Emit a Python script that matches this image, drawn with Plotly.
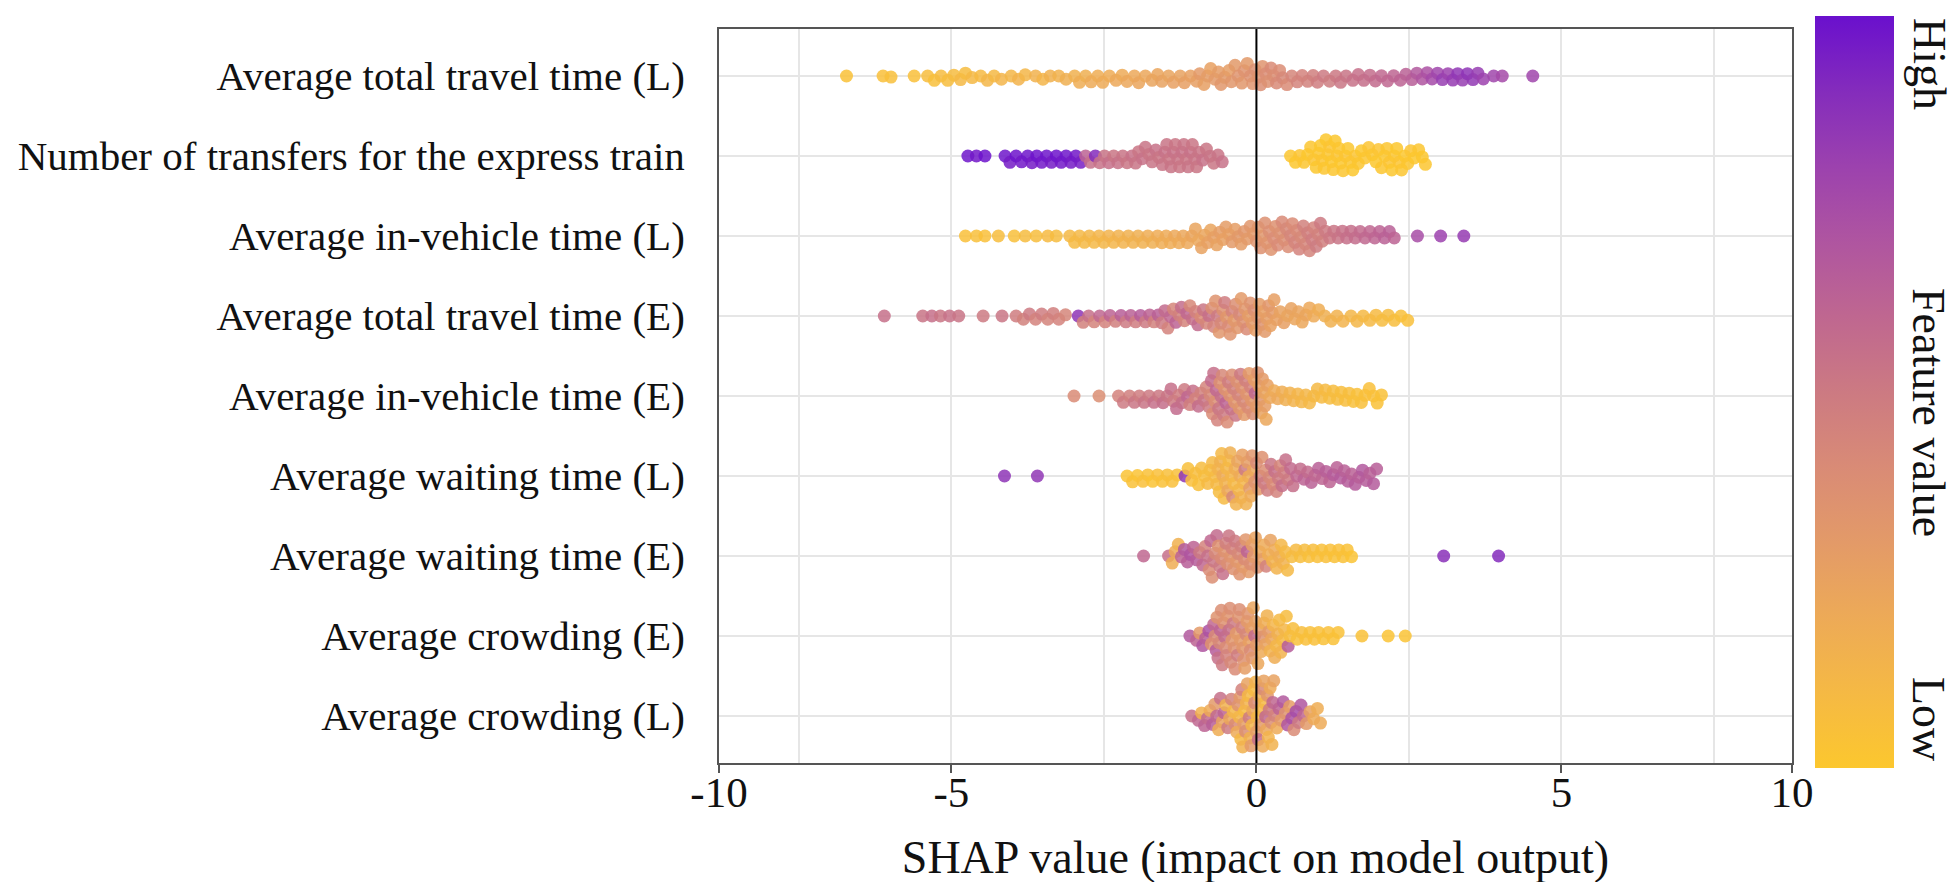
import math
import numpy as np
import plotly.graph_objects as go

FONT = "Liberation Serif, Times New Roman, serif"

# Feature rows, top to bottom
FEATURES = [
    "Average total travel time (L)",
    "Number of transfers for the express train",
    "Average in-vehicle time (L)",
    "Average total travel time (E)",
    "Average in-vehicle time (E)",
    "Average waiting time (L)",
    "Average waiting time (E)",
    "Average crowding (E)",
    "Average crowding (L)",
]

X_TICK_TEXT = ["-10", "-5", "0", "5", "10"]
X_MINOR_GRID = [-7.5, -5, -2.5, 2.5, 5, 7.5]
X_RANGE = [-8.81, 8.78]
Y_RANGE = [-0.5875, 8.5875]

# (SHAP value, normalised feature value) pairs
ROW_ATT_L = [
    (-6.72,.04),(-6.12,.05),(-5.99,.06),(-5.61,.05),(-5.39,.07),(-5.28,.06),(-5.17,.08),(-5.06,.07),
    (-4.96,.08),(-4.85,.1),(-4.77,.08),(-4.66,.1),(-4.52,.09),(-4.41,.12),(-4.3,.1),(-4.18,.13),
    (-4.02,.12),(-3.9,.14),(-3.79,.12),(-3.62,.15),(-3.5,.13),(-3.38,.16),(-3.24,.15),(-3.12,.17),
    (-2.98,.16),(-2.9,.18),(-2.8,.17),(-2.71,.2),(-2.6,.18),(-2.52,.2),(-2.41,.19),(-2.3,.21),
    (-2.2,.2),(-2.12,.22),(-2.0,.21),(-1.93,.23),(-1.82,.22),(-1.71,.24),(-1.62,.23),(-1.55,.25),
    (-1.44,.24),(-1.36,.26),(-1.25,.25),(-1.18,.27),(-1.08,.26),
    (-0.98,.27),(-0.93,.3),(-0.86,.27),(-0.8,.29),(-0.75,.26),(-0.68,.3),(-0.62,.29),(-0.58,.32),
    (-0.52,.31),(-0.45,.28),(-0.41,.32),(-0.35,.31),(-0.3,.34),(-0.24,.32),(-0.2,.35),(-0.15,.31),
    (-0.1,.36),(-0.06,.34),(-0.02,.37),(0.03,.35),(0.07,.38),(0.1,.34),(0.15,.39),(0.19,.37),
    (0.24,.4),(0.28,.38),(0.33,.41),(0.38,.39),(0.43,.42),(0.5,.4),
    (0.58,.43),(0.67,.44),(0.75,.45),(0.84,.46),(0.93,.47),(1.0,.48),(1.1,.5),(1.2,.49),
    (1.3,.51),(1.38,.52),(1.47,.53),(1.58,.54),(1.67,.55),(1.76,.56),(1.86,.57),(1.95,.58),
    (2.05,.59),(2.15,.6),(2.25,.61),(2.36,.62),(2.45,.63),
    (2.55,.65),(2.63,.68),(2.72,.7),(2.8,.72),
    (2.88,.76),(2.97,.78),(3.05,.82),(3.14,.8),(3.22,.83),(3.3,.85),(3.38,.82),(3.46,.86),
    (3.55,.84),(3.63,.82),(3.72,.8),
    (3.89,.78),(4.03,.76),(4.53,.78),
]

ROW_TRANSFERS = [
    (-4.73,.98),(-4.59,.97),(-4.45,.99),(-4.12,.98),(-4.04,.96),(-3.94,.99),(-3.85,.97),(-3.75,.98),
    (-3.68,.96),(-3.6,.99),(-3.52,.97),(-3.44,.98),(-3.36,.96),(-3.28,.99),(-3.2,.97),(-3.12,.98),
    (-3.04,.96),(-2.96,.97),(-2.88,.95),
    (-2.8,.62),(-2.72,.55),(-2.64,.9),(-2.57,.54),(-2.49,.53),(-2.42,.55),(-2.34,.52),(-2.27,.54),
    (-2.19,.53),(-2.12,.52),(-2.04,.54),
    (-1.98,.53),(-1.93,.52),(-1.87,.54),(-1.82,.53),(-1.76,.52),(-1.71,.53),(-1.65,.54),(-1.6,.52),(-1.54,.53),
    (-1.5,.54),(-1.47,.53),(-1.43,.52),(-1.4,.53),(-1.36,.54),(-1.33,.52),(-1.29,.53),(-1.26,.52),
    (-1.22,.54),(-1.19,.53),(-1.15,.52),(-1.12,.53),(-1.08,.54),(-1.05,.52),(-1.01,.53),(-0.98,.52),(-0.94,.53),
    (-0.88,.54),(-0.82,.52),(-0.76,.53),(-0.7,.52),(-0.63,.53),(-0.56,.54),
    (0.56,.01),(0.64,.0),(0.71,.02),(0.78,.01),(0.84,.0),(0.89,.01),(0.94,.02),(0.98,.0),
    (1.02,.01),(1.05,.0),(1.08,.02),(1.11,.01),(1.14,.0),(1.17,.01),(1.2,.02),(1.23,.0),
    (1.26,.01),(1.29,.0),(1.32,.02),(1.35,.01),(1.38,.0),(1.42,.01),(1.46,.02),(1.5,.0),
    (1.54,.01),(1.58,.0),(1.62,.02),(1.67,.01),(1.72,.0),(1.78,.01),(1.84,.02),
    (1.9,.01),(1.96,.0),(2.0,.02),(2.05,.01),(2.1,.0),(2.14,.01),(2.18,.02),(2.22,.0),
    (2.26,.01),(2.3,.0),(2.34,.02),(2.38,.01),(2.43,.0),(2.48,.01),(2.53,.02),(2.59,.0),
    (2.66,.01),(2.72,.0),(2.77,.01),
]

ROW_IVT_L = [
    (-4.77,.05),(-4.59,.06),(-4.45,.05),(-4.23,.07),(-3.97,.06),(-3.79,.08),(-3.61,.07),(-3.42,.09),(-3.28,.08),
    (-3.06,.1),(-2.98,.09),(-2.9,.11),(-2.82,.1),(-2.74,.12),(-2.66,.11),(-2.58,.13),(-2.5,.12),
    (-2.42,.14),(-2.34,.13),(-2.26,.15),(-2.18,.14),(-2.1,.16),(-2.02,.15),(-1.94,.17),(-1.86,.16),
    (-1.78,.18),(-1.7,.17),(-1.62,.19),(-1.55,.18),(-1.48,.2),(-1.41,.19),(-1.34,.21),(-1.27,.2),
    (-1.2,.22),(-1.13,.21),(-1.06,.23),
    (-1.0,.24),(-0.95,.22),(-0.9,.25),(-0.85,.23),(-0.8,.26),(-0.75,.24),(-0.7,.27),(-0.65,.25),
    (-0.6,.28),(-0.55,.26),(-0.5,.29),(-0.45,.27),(-0.4,.3),(-0.35,.28),(-0.3,.31),(-0.25,.29),
    (-0.2,.32),(-0.15,.3),(-0.1,.33),(-0.05,.31),
    (0.0,.34),(0.03,.32),(0.07,.36),(0.1,.33),(0.14,.37),(0.17,.34),(0.21,.38),(0.24,.35),
    (0.28,.39),(0.31,.36),(0.35,.4),(0.38,.37),(0.42,.41),(0.45,.38),(0.49,.42),(0.52,.39),
    (0.56,.43),(0.59,.4),(0.63,.44),(0.66,.41),(0.7,.45),(0.73,.42),(0.77,.46),(0.8,.43),
    (0.84,.47),(0.87,.44),(0.91,.48),(0.94,.45),(0.98,.49),(1.01,.46),(1.05,.5),(1.08,.47),
    (1.13,.5),(1.2,.51),(1.27,.52),(1.34,.53),(1.41,.54),(1.48,.55),(1.55,.56),(1.62,.57),
    (1.7,.58),(1.78,.59),(1.86,.6),(1.94,.61),(2.02,.62),(2.1,.63),(2.18,.64),(2.26,.62),
    (2.64,.74),(3.02,.8),(3.4,.83),
]

ROW_ATT_E = [
    (-6.1,.55),(-5.47,.53),(-5.32,.55),(-5.18,.52),(-5.03,.54),(-4.88,.53),(-4.48,.5),(-4.17,.52),
    (-3.94,.48),(-3.82,.46),(-3.72,.5),(-3.62,.45),(-3.52,.48),(-3.42,.44),(-3.33,.47),(-3.24,.45),
    (-3.13,.43),(-2.92,.86),(-2.84,.46),(-2.75,.55),(-2.66,.44),(-2.57,.6),(-2.48,.45),(-2.4,.62),
    (-2.31,.47),(-2.22,.65),(-2.14,.5),(-2.06,.63),(-1.98,.48),(-1.9,.66),(-1.82,.5),(-1.75,.62),
    (-1.68,.46),(-1.61,.64),(-1.55,.5),
    (-1.5,.58),(-1.45,.45),(-1.41,.6),(-1.36,.43),(-1.32,.62),(-1.27,.46),(-1.23,.57),(-1.18,.44),
    (-1.14,.6),(-1.09,.42),(-1.05,.55),(-1.0,.45),(-0.96,.58),(-0.91,.4),(-0.87,.52),(-0.82,.43),
    (-0.78,.55),(-0.73,.38),
    (-0.7,.45),(-0.67,.35),(-0.64,.5),(-0.61,.33),(-0.58,.42),(-0.55,.36),(-0.52,.48),(-0.49,.32),
    (-0.46,.4),(-0.43,.34),(-0.4,.45),(-0.37,.31),(-0.34,.38),(-0.31,.33),(-0.28,.42),(-0.25,.3),
    (-0.22,.36),(-0.19,.32),(-0.16,.4),(-0.13,.29),(-0.1,.35),(-0.07,.3),(-0.04,.38),(-0.01,.28),
    (0.02,.33),(0.05,.29),(0.08,.35),(0.11,.27),(0.14,.31),(0.17,.28),(0.2,.33),(0.23,.26),
    (0.26,.3),(0.29,.27),
    (0.33,.26),(0.39,.25),(0.45,.27),(0.51,.24),(0.57,.25),(0.63,.23),(0.69,.24),(0.75,.22),
    (0.81,.23),(0.87,.21),(0.94,.2),
    (1.02,.18),(1.12,.17),(1.22,.16),(1.32,.15),(1.42,.14),(1.55,.12),(1.65,.12),(1.75,.1),
    (1.86,.1),(1.96,.09),(2.06,.08),(2.16,.08),(2.26,.07),(2.37,.06),(2.48,.05),
]

ROW_IVT_E = [
    (-2.99,.4),(-2.58,.38),(-2.26,.45),(-2.18,.5),(-2.08,.47),(-2.0,.52),(-1.92,.48),(-1.84,.53),
    (-1.76,.5),(-1.68,.55),(-1.6,.51),(-1.53,.56),(-1.46,.52),
    (-1.4,.55),(-1.36,.5),(-1.31,.58),(-1.27,.48),(-1.22,.56),(-1.18,.5),(-1.13,.6),(-1.09,.47),
    (-1.04,.55),(-1.0,.45),(-0.95,.57),(-0.91,.46),(-0.86,.53),(-0.82,.44),
    (-0.78,.5),(-0.76,.42),(-0.74,.58),(-0.72,.4),(-0.7,.55),(-0.68,.38),(-0.66,.6),(-0.64,.45),
    (-0.62,.52),(-0.6,.36),(-0.58,.57),(-0.56,.42),(-0.54,.5),(-0.52,.35),(-0.5,.62),(-0.48,.4),
    (-0.46,.48),(-0.44,.34),(-0.42,.55),(-0.4,.38),(-0.38,.46),(-0.36,.33),(-0.34,.52),(-0.32,.37),
    (-0.3,.44),(-0.28,.32),(-0.26,.5),(-0.24,.36),(-0.22,.42),(-0.2,.3),(-0.18,.47),(-0.16,.34),
    (-0.14,.4),(-0.12,.3),(-0.1,.45),(-0.08,.32),(-0.06,.38),(-0.04,.28),(-0.02,.6),(0.0,.3),
    (0.02,.35),(0.04,.27),(0.06,.33),(0.08,.25),(0.1,.3),(0.12,.24),(0.14,.28),(0.16,.22),(0.18,.26),
    (0.22,.22),(0.29,.2),(0.35,.21),(0.42,.18),(0.48,.17),(0.55,.15),(0.61,.14),(0.68,.13),
    (0.74,.12),(0.81,.12),(0.87,.11),(0.94,.1),(1.0,.1),(1.07,.09),(1.13,.09),(1.2,.08),
    (1.26,.08),(1.33,.08),(1.39,.07),(1.46,.07),(1.52,.07),(1.59,.06),(1.65,.06),(1.72,.06),
    (1.78,.05),(1.85,.05),(1.92,.05),(1.98,.04),(2.05,.04),
]

ROW_WT_L = [
    (-4.13,.86),(-3.59,.85),(-2.12,.03),(-2.03,.04),(-1.95,.03),(-1.86,.05),(-1.78,.04),(-1.7,.03),
    (-1.62,.05),(-1.54,.04),(-1.46,.06),(-1.38,.05),(-1.3,.06),(-1.17,.86),(-1.12,.06),(-1.06,.05),
    (-1.0,.07),(-0.95,.06),(-0.9,.08),(-0.85,.07),(-0.8,.09),(-0.76,.08),(-0.72,.1),(-0.68,.09),
    (-0.65,.1),(-0.63,.14),(-0.61,.08),(-0.59,.16),(-0.57,.11),(-0.55,.2),(-0.53,.09),(-0.51,.15),
    (-0.49,.12),(-0.47,.22),(-0.45,.1),(-0.43,.17),(-0.41,.13),(-0.39,.42),(-0.37,.11),(-0.35,.18),
    (-0.33,.14),(-0.31,.24),(-0.29,.12),(-0.27,.2),(-0.25,.15),(-0.23,.26),(-0.21,.13),(-0.19,.5),
    (-0.17,.16),(-0.15,.28),(-0.13,.18),(-0.11,.3),(-0.09,.2),(-0.07,.33),(-0.05,.22),
    (-0.03,.35),(0.0,.4),(0.03,.3),(0.06,.45),(0.09,.36),(0.12,.5),(0.15,.38),(0.18,.48),
    (0.21,.42),(0.24,.52),(0.27,.4),(0.3,.55),(0.33,.45),(0.36,.5),(0.39,.43),(0.42,.56),
    (0.45,.48),(0.48,.55),(0.52,.5),(0.56,.58),
    (0.6,.56),(0.66,.6),(0.72,.57),(0.78,.62),(0.84,.58),(0.9,.63),(0.96,.6),(1.02,.64),
    (1.08,.61),(1.14,.65),(1.2,.62),(1.26,.66),(1.32,.63),(1.38,.67),(1.44,.64),(1.5,.66),
    (1.56,.63),(1.62,.67),(1.68,.65),(1.74,.68),(1.8,.66),(1.86,.64),(1.92,.67),(1.97,.65),
]

ROW_WT_E = [
    (-1.85,.6),(-1.44,.55),(-1.38,.18),(-1.33,.2),(-1.28,.16),(-1.23,.62),(-1.18,.68),(-1.13,.65),
    (-1.08,.7),(-1.03,.62),(-0.98,.66),(-0.93,.5),(-0.88,.6),(-0.84,.45),
    (-0.8,.55),(-0.775,.4),(-0.75,.6),(-0.725,.38),(-0.7,.52),(-0.675,.42),(-0.65,.58),(-0.625,.36),
    (-0.6,.5),(-0.575,.4),(-0.55,.55),(-0.525,.35),(-0.5,.47),(-0.475,.38),(-0.45,.52),(-0.425,.34),
    (-0.4,.45),(-0.375,.36),(-0.35,.5),(-0.325,.32),(-0.3,.42),(-0.275,.35),(-0.25,.47),(-0.225,.3),
    (-0.2,.4),(-0.175,.33),(-0.15,.62),(-0.125,.3),(-0.1,.38),(-0.075,.28),
    (-0.05,.3),(-0.015,.25),(0.02,.35),(0.055,.22),(0.09,.28),(0.125,.2),(0.16,.45),(0.195,.18),
    (0.23,.25),(0.265,.15),(0.3,.2),(0.335,.14),(0.37,.18),(0.405,.12),(0.44,.15),(0.475,.1),
    (0.51,.1),(0.58,.08),(0.65,.09),(0.72,.07),(0.79,.08),(0.86,.06),(0.93,.07),(1.0,.05),
    (1.07,.06),(1.14,.05),(1.21,.05),(1.28,.04),(1.35,.05),(1.42,.04),(1.49,.04),(1.56,.03),
    (3.07,.88),(3.97,.9),
]

ROW_CR_E = [
    (-1.09,.68),(-0.98,.62),(-0.93,.3),(-0.88,.7),(-0.83,.65),(-0.78,.72),(-0.74,.35),
    (-0.7,.6),(-0.68,.4),(-0.66,.66),(-0.645,.35),(-0.63,.55),(-0.61,.42),(-0.59,.62),(-0.575,.38),
    (-0.56,.5),(-0.54,.36),(-0.52,.58),(-0.505,.4),(-0.49,.45),(-0.47,.34),(-0.45,.55),(-0.435,.38),
    (-0.42,.42),(-0.4,.33),(-0.38,.5),(-0.365,.36),(-0.35,.4),(-0.33,.3),(-0.31,.48),(-0.295,.35),
    (-0.28,.38),(-0.26,.3),(-0.24,.45),(-0.225,.32),(-0.21,.36),(-0.19,.28),(-0.17,.42),(-0.155,.3),
    (-0.14,.34),(-0.12,.26),(-0.1,.4),(-0.085,.28),(-0.07,.32),(-0.05,.24),(-0.03,.58),(-0.015,.27),
    (0.0,.3),(0.025,.22),(0.05,.28),(0.075,.2),(0.1,.35),(0.125,.18),(0.15,.25),(0.175,.16),
    (0.2,.3),(0.225,.15),(0.25,.22),(0.275,.13),(0.3,.18),(0.325,.12),(0.35,.16),(0.375,.1),
    (0.4,.14),(0.43,.1),(0.46,.12),(0.49,.08),(0.52,.66),(0.55,.08),
    (0.6,.07),(0.67,.06),(0.74,.07),(0.81,.05),(0.88,.06),(0.95,.05),(1.02,.05),(1.1,.04),
    (1.18,.05),(1.26,.04),(1.34,.04),
    (1.73,.04),(2.16,.03),(2.44,.03),
]

ROW_CR_L = [
    (-1.06,.55),(-0.95,.6),(-0.9,.15),(-0.85,.62),(-0.8,.58),(-0.76,.2),(-0.72,.65),(-0.68,.3),
    (-0.65,.6),(-0.62,.18),(-0.59,.55),(-0.56,.25),(-0.53,.62),(-0.5,.15),(-0.47,.5),(-0.44,.22),
    (-0.41,.45),(-0.38,.12),(-0.35,.4),(-0.32,.2),
    (-0.3,.35),(-0.285,.12),(-0.27,.3),(-0.255,.1),(-0.24,.45),(-0.225,.15),(-0.21,.28),(-0.195,.08),
    (-0.18,.38),(-0.165,.14),(-0.15,.25),(-0.135,.1),(-0.12,.5),(-0.105,.16),(-0.09,.3),(-0.075,.12),
    (-0.06,.22),(-0.045,.09),(-0.03,.4),(-0.015,.15),(0.0,.28),(0.015,.1),(0.03,.55),(0.045,.18),
    (0.06,.3),(0.075,.12),(0.09,.42),(0.105,.2),(0.12,.25),(0.135,.1),(0.15,.6),(0.165,.22),
    (0.18,.32),(0.195,.14),(0.21,.5),(0.225,.2),(0.24,.38),(0.255,.15),(0.27,.6),(0.285,.25),
    (0.3,.45),(0.335,.2),(0.37,.62),(0.405,.3),(0.44,.68),(0.475,.35),(0.51,.7),(0.545,.28),
    (0.58,.72),(0.615,.4),(0.65,.75),(0.69,.5),(0.73,.7),(0.77,.6),
    (0.82,.3),(0.88,.25),(0.94,.2),(1.0,.18),(1.05,.2),
]

ROWS = [ROW_ATT_L, ROW_TRANSFERS, ROW_IVT_L, ROW_ATT_E, ROW_IVT_E,
        ROW_WT_L, ROW_WT_E, ROW_CR_E, ROW_CR_L]

COLORSCALE = [
    [0.0, "#FCC72E"], [0.1, "#F5B944"], [0.2, "#EDAA57"], [0.3, "#E39A68"],
    [0.4, "#D98B76"], [0.5, "#CC7A82"], [0.6, "#BF6790"], [0.7, "#AF55A0"],
    [0.8, "#9C42AE"], [0.9, "#842CBC"], [1.0, "#6A10CD"],
]

# ---------------- layout geometry ----------------
W, H = 1956, 882
ML, MR, MT, MB = 711, 172, 21, 127
PLOT_W = W - ML - MR
PLOT_H = H - MT - MB
PX_PER_X = PLOT_W / (X_RANGE[1] - X_RANGE[0])
PX_PER_Y = PLOT_H / (Y_RANGE[1] - Y_RANGE[0])
DOT = 13
MIN_DIST = 8.0


def swarm_offsets(xs_px, d):
    order = np.argsort(xs_px, kind="stable")
    placed = []
    ys = np.zeros(len(xs_px))
    for i in order:
        x = xs_px[i]
        neigh = [(px, py) for px, py in placed if abs(px - x) < d]
        cands = [0.0]
        for px, py in neigh:
            h = math.sqrt(max(d * d - (px - x) ** 2, 0.0))
            cands += [py + h, py - h]
        cands.sort(key=lambda c: (abs(c), c))
        chosen = 0.0
        for c in cands:
            if all((px - x) ** 2 + (py - c) ** 2 >= d * d - 1e-6 for px, py in neigh):
                chosen = c
                break
        ys[i] = chosen
        placed.append((x, chosen))
    return ys


all_x, all_y, all_c = [], [], []
n_rows = len(FEATURES)
for r, row in enumerate(ROWS):
    xs = np.array([p[0] for p in row])
    cs = np.array([p[1] for p in row])
    offs = swarm_offsets(xs * PX_PER_X, MIN_DIST)
    base = n_rows - 1 - r
    all_x.extend(xs.tolist())
    all_y.extend((base + offs / PX_PER_Y).tolist())
    all_c.extend(cs.tolist())

fig = go.Figure()
fig.add_trace(go.Scatter(
    x=all_x, y=all_y, mode="markers",
    marker=dict(
        size=DOT, color=all_c, colorscale=COLORSCALE, cmin=0, cmax=1, opacity=0.85,
        line=dict(width=0),
        showscale=True,
        colorbar=dict(
            thickness=79, thicknessmode="pixels",
            len=752 / PLOT_H, lenmode="fraction",
            x=(1807 - ML) / PLOT_W, xanchor="left", xpad=0,
            y=(H - MB - 384.5) / PLOT_H, yanchor="middle", ypad=0,
            outlinewidth=0, showticklabels=False, ticks="",
        ),
    ),
    hoverinfo="skip", showlegend=False,
))

# zero reference line drawn above points
fig.add_shape(type="line", xref="x", yref="paper", x0=0, x1=0, y0=0, y1=1,
              line=dict(color="black", width=2), layer="above")

fig.update_layout(
    width=W, height=H,
    margin=dict(l=ML, r=MR, t=MT, b=MB, autoexpand=False),
    paper_bgcolor="white", plot_bgcolor="white",
    font=dict(family=FONT, color="#111111"),
    showlegend=False,
)

fig.update_xaxes(
    range=X_RANGE, autorange=False,
    tickmode="array",
    tickvals=[X_RANGE[0], -5, 0, 5, X_RANGE[1]], ticktext=X_TICK_TEXT,
    ticks="outside", ticklen=8, tickwidth=2, tickcolor="#555555",
    tickfont=dict(size=43, family=FONT, color="#111111"),
    ticklabelstandoff=-18,
    showline=True, linecolor="#555555", linewidth=2, mirror=True,
    showgrid=False, zeroline=False,
    minor=dict(tickvals=X_MINOR_GRID, showgrid=True, gridcolor="#E6E6E6", gridwidth=1.5, ticks=""),
    title=dict(text="SHAP value (impact on model output)",
               font=dict(size=46, family=FONT, color="#111111"), standoff=26),
    automargin=False,
)

fig.update_yaxes(
    range=Y_RANGE, autorange=False,
    tickmode="array", tickvals=list(range(n_rows)), ticktext=FEATURES[::-1],
    ticks="", tickfont=dict(size=41, family=FONT, color="#111111"),
    ticklabelstandoff=24,
    showline=True, linecolor="#555555", linewidth=2, mirror=True,
    showgrid=True, gridcolor="#E6E6E6", gridwidth=1.5, zeroline=False,
    automargin=False,
)

ANN_X = (1921 - ML) / PLOT_W
for txt, ypx in [("High", 56), ("Feature value", 404), ("Low", 711)]:
    fig.add_annotation(
        text=txt, xref="paper", yref="paper",
        x=ANN_X, y=(H - MB - ypx) / PLOT_H,
        xanchor="center", yanchor="middle", showarrow=False, textangle=90,
        font=dict(size=46, family=FONT, color="#111111"),
    )

fig.write_html("out.html")
